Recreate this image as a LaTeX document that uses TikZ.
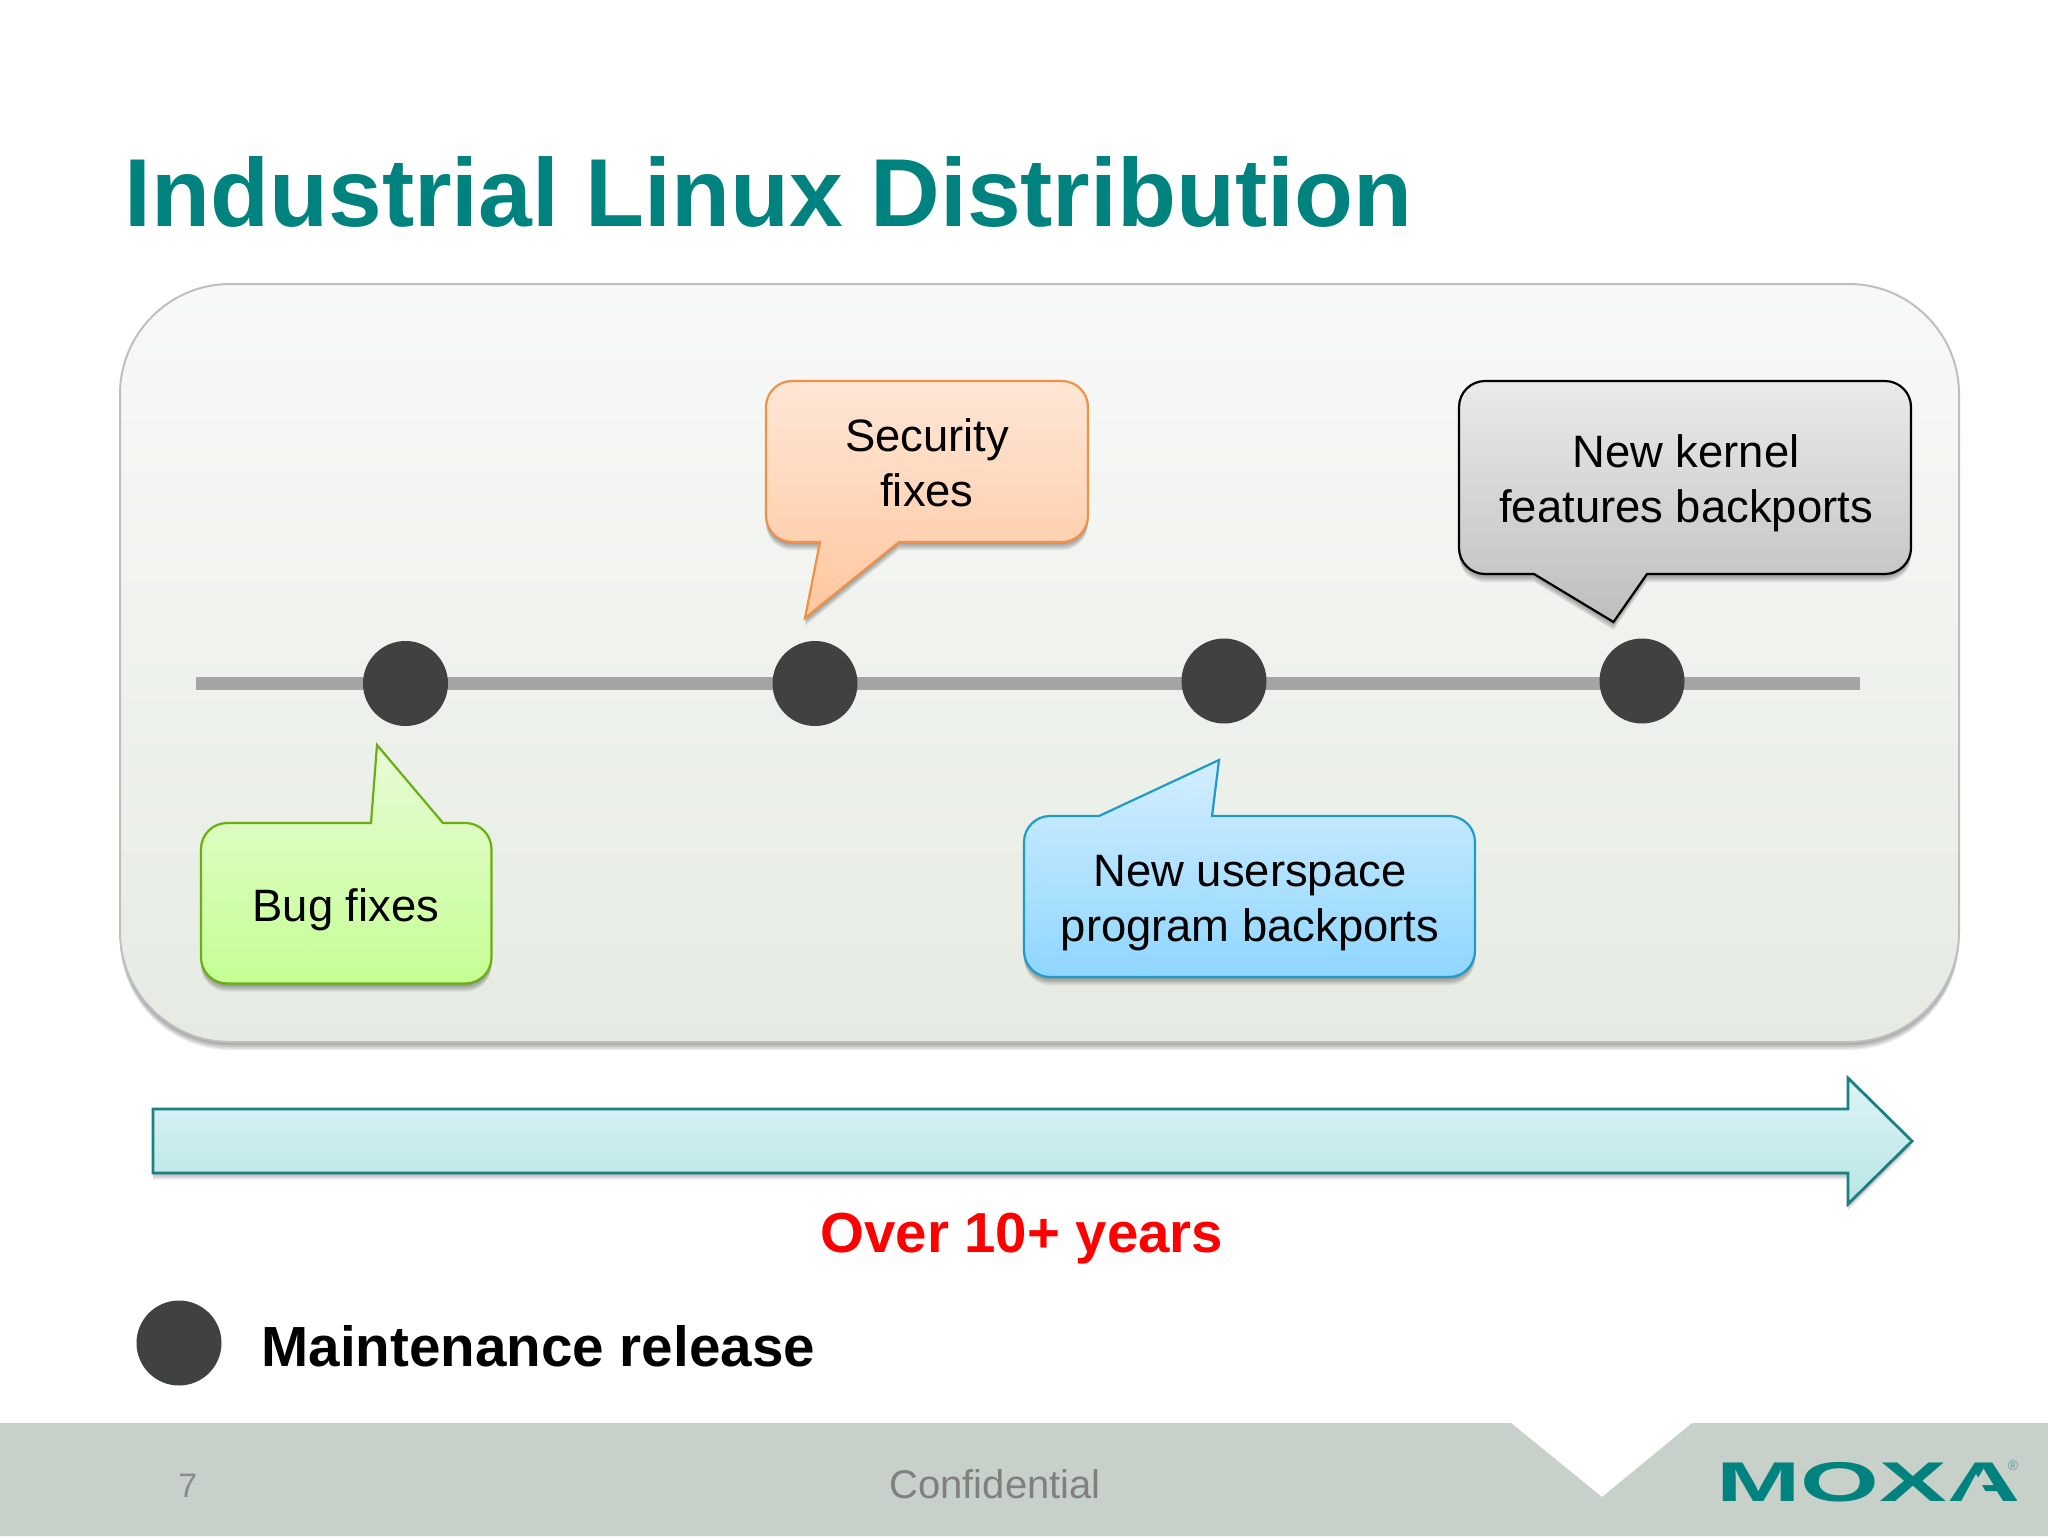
\documentclass[tikz,border=0pt]{standalone}
\usepackage{fontspec}
\setmainfont{Liberation Sans}
\definecolor{teal1}{HTML}{00837F}
\definecolor{band}{HTML}{C8D1C9}
\definecolor{dotc}{HTML}{404241}
\definecolor{linec}{HTML}{A3A5A2}
\newcommand\bubblepath[6]{({#1+\br},#2) #5 -- ({#3-\br},#2) .. controls ({#3-.45*\br},#2) and (#3,{#2+.45*\br}) .. (#3,{#2+\br}) -- (#3,{#4-\br}) .. controls (#3,{#4-.45*\br}) and ({#3-.45*\br},#4) .. ({#3-\br},#4) #6 -- ({#1+\br},#4) .. controls ({#1+.45*\br},#4) and (#1,{#4-.45*\br}) .. (#1,{#4-\br}) -- (#1,{#2+\br}) .. controls (#1,{#2+.45*\br}) and ({#1+.45*\br},#2) .. ({#1+\br},#2) -- cycle}
\newcommand\bubble[7]{%
  \foreach \s in {2,3.5,5,6.5,8}{\fill[black,opacity=.08,shift={(0,\s)}] \bubblepath{#2}{#3}{#4}{#5}{#6}{#7};}
  \draw[#1] \bubblepath{#2}{#3}{#4}{#5}{#6}{#7};}
\tikzset{
  dotnode/.style={circle,fill=dotc,draw=none,minimum size=42.5pt,inner sep=0pt},
  bubtext/.style={align=center,font=\fontsize{22.7}{27.5}\selectfont,text=black,inner sep=0pt},
  lbl/.style={anchor=base west,inner sep=0pt},
  bubbase/.style={line width=1.1pt,line join=miter},
}
\begin{document}
\begin{tikzpicture}[x=0.5pt,y=-0.5pt]
\useasboundingbox (0,0) rectangle (2048,1536);
\fill[white] (0,0) rectangle (2048,1536);
% title
\node[lbl,font=\fontsize{48.3}{55}\selectfont\bfseries,text=teal1] (title) at (124,226) {Industrial Linux Distribution};
% panel
\def\br{110}
\bubble{draw=black!25,line width=1pt,top color={rgb,255:red,248;green,249;blue,247},bottom color={rgb,255:red,229;green,235;blue,226}}{120}{284}{1959}{1042}{}{}
% timeline
\coordinate (tls) at (196,683.5);
\coordinate (tle) at (1860,683.5);
\draw[linec,line width=6.5pt] (tls) -- (tle);
\node[dotnode] (d1) at (405.5,683.5) {};
\node[dotnode] (d2) at (815,683.5) {};
\node[dotnode] (d3) at (1224,681) {};
\node[dotnode] (d4) at (1642,681) {};
% callouts
\def\br{26}
\bubble{bubbase,draw={rgb,255:red,240;green,145;blue,74},top color={rgb,255:red,254;green,230;blue,214},bottom color={rgb,255:red,255;green,199;blue,158}}{766}{381}{1088}{542}{}{-- (899,542) -- (805,618) -- (820,542)}
\node[bubtext] (sec) at (927,463) {Security\\fixes};
\bubble{bubbase,draw={rgb,255:red,107;green,174;blue,17},top color={rgb,255:red,232;green,250;blue,214},bottom color={rgb,255:red,197;green,255;blue,148}}{201}{823}{491.5}{983.5}{-- (371,823) -- (377,745) -- (443,823)}{}
\node[bubtext] (bug) at (346,910) {Bug fixes};
\bubble{bubbase,draw={rgb,255:red,31;green,155;blue,201},top color={rgb,255:red,212;green,238;blue,255},bottom color={rgb,255:red,143;green,214;blue,255}}{1024}{816}{1475}{977}{-- (1099,816) -- (1219,760) -- (1212,816)}{}
\node[bubtext] (usr) at (1250,903.5) {New userspace\\program backports};
\bubble{bubbase,draw=black,top color={rgb,255:red,234;green,234;blue,234},bottom color={rgb,255:red,190;green,190;blue,190}}{1459}{381}{1911}{574}{}{-- (1647,574) -- (1613.5,622) -- (1534,574)}
\node[bubtext] (ker) at (1686,483.5) {New kernel\\features backports};
% big arrow
\foreach \s in {2,3.5,5,6.5}{\fill[black,opacity=.07,shift={(0,\s)}] (153,1109) -- (1848,1109) -- (1848,1078) -- (1912,1141) -- (1848,1204) -- (1848,1173) -- (153,1173) -- cycle;}
\draw[line width=1.4pt,draw={rgb,255:red,26;green,128;blue,128},top color={rgb,255:red,220;green,243;blue,246},bottom color={rgb,255:red,185;green,229;blue,227}] (153,1109) -- (1848,1109) -- (1848,1078) -- (1912,1141) -- (1848,1204) -- (1848,1173) -- (153,1173) -- cycle;
\node[lbl,font=\fontsize{28.2}{32}\selectfont\bfseries,text=red] (yrs) at (820,1252) {Over 10+ years};
% legend
\node[dotnode] (leg) at (179,1343) {};
\node[lbl,font=\fontsize{28.3}{32}\selectfont\bfseries,text=black] (mr) at (261,1366) {Maintenance release};
% footer
\fill[band] (0,1423) -- (1511,1423) -- (1602,1497) -- (1692,1423) -- (2048,1423) -- (2048,1536) -- (0,1536) -- cycle;
\node[lbl,font=\fontsize{17}{20}\selectfont,text=black!45] (pg) at (178,1497) {7};
\node[lbl,font=\fontsize{20}{24}\selectfont,text=black!50] (conf) at (889,1498) {Confidential};
\node[lbl,font=\fontsize{28}{30}\selectfont\bfseries,text=teal1] (moxa) at (1716,1501) {\scalebox{1.81}[1]{MOXA}};
\fill[band] (1976,1474) -- (1991.5,1502.5) -- (1960.5,1502.5) -- cycle;
\node[anchor=center,inner sep=0pt,font=\fontsize{7}{8}\selectfont,text=teal1!60!band] (reg) at (2013,1466) {®};
\end{tikzpicture}
\end{document}
